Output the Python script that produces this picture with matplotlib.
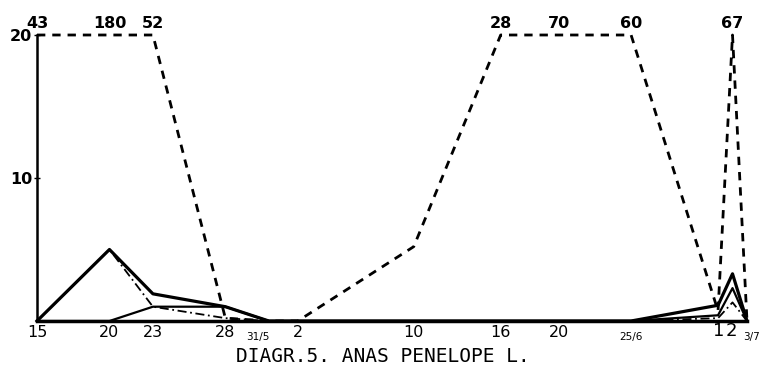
import numpy as np
import matplotlib.pyplot as plt
from matplotlib.transforms import blended_transform_factory

# days counted from 1 May (31/5 = 31, 1/7 = 62)
days = [15, 20, 23, 28, 31, 33, 41, 47, 51, 56, 62, 63, 64]
day_labels = ["15", "20", "23", "28", "31/5", "2", "10", "16", "20", "25/6", "1", "2", "3/7"]

# counts per day, four series as drawn in the diagram
dashed_vals = [43, 180, 52, 0.2, 0, 0, 5.2, 28, 70, 60, 0.7, 67, 0]
thick_vals = [0, 5.0, 1.9, 1.0, 0, 0, 0, 0, 0, 0, 1.1, 3.3, 0]
thin_vals = [0, 0, 1.0, 1.0, 0, 0, 0, 0, 0, 0, 0.4, 2.3, 0]
dashdot_vals = [0, 5.0, 1.0, 0.2, 0, 0, 0, 0, 0, 0, 0.2, 1.3, 0]

y_ticks = [10, 20]
y_max = 20

fig = plt.figure(figsize=(7.63, 3.65), dpi=100)
ax = fig.add_axes([37 / 763, 44 / 365, 710 / 763, 286 / 365])

x = np.array(days)
ax.plot(x, np.minimum(dashed_vals, y_max), color="black", lw=2.0,
        linestyle=(0, (3, 2.5)), clip_on=False)
ax.plot(x, thick_vals, color="black", lw=2.3, clip_on=False)
ax.plot(x, thin_vals, color="black", lw=1.6, clip_on=False)
ax.plot(x, dashdot_vals, color="black", lw=1.3,
        linestyle=(0, (5, 2, 1, 2)), clip_on=False)

# values above the top of the scale are written at the top
for d, v in zip(days, dashed_vals):
    if v > y_max:
        ax.annotate(str(v), (d, y_max), xytext=(0, 3), textcoords="offset points",
                    ha="center", va="bottom", fontsize=11.5, fontweight="bold")

ax.set_xlim(days[0], days[-1])
ax.set_ylim(0, y_max)

for s in ["top", "right"]:
    ax.spines[s].set_visible(False)
ax.spines["left"].set_linewidth(1.8)
ax.spines["bottom"].set_linewidth(2.5)

ax.set_yticks(y_ticks)
ax.set_yticklabels([str(t) for t in y_ticks], fontsize=11.5, fontweight="bold")
ax.tick_params(axis="y", direction="inout", length=5, width=1, pad=1)
ax.set_xticks([])

trans = blended_transform_factory(ax.transData, ax.transAxes)
for d, lab in zip(days, day_labels):
    if "/" in lab:
        dx = -8 if lab == "31/5" else 3 if lab == "3/7" else 0
        ax.annotate(lab, (d, 0), xycoords=trans, xytext=(dx, -8),
                    textcoords="offset points", ha="center", va="top", fontsize=7.5)
    elif lab in ("1", "2") and d > 60:
        ax.annotate(lab, (d, 0), xycoords=trans, xytext=(0.5 if lab == "1" else -0.5, -1),
                    textcoords="offset points", ha="center", va="top", fontsize=13)
    else:
        ax.annotate(lab, (d, 0), xycoords=trans, xytext=(0, -3),
                    textcoords="offset points", ha="center", va="top", fontsize=11.5)

fig.text(383 / 763, 1 - 357 / 365, "DIAGR.5. ANAS PENELOPE L.", ha="center", va="center",
         fontsize=14, family="DejaVu Sans Mono")

fig.savefig("out.png", dpi=100)
